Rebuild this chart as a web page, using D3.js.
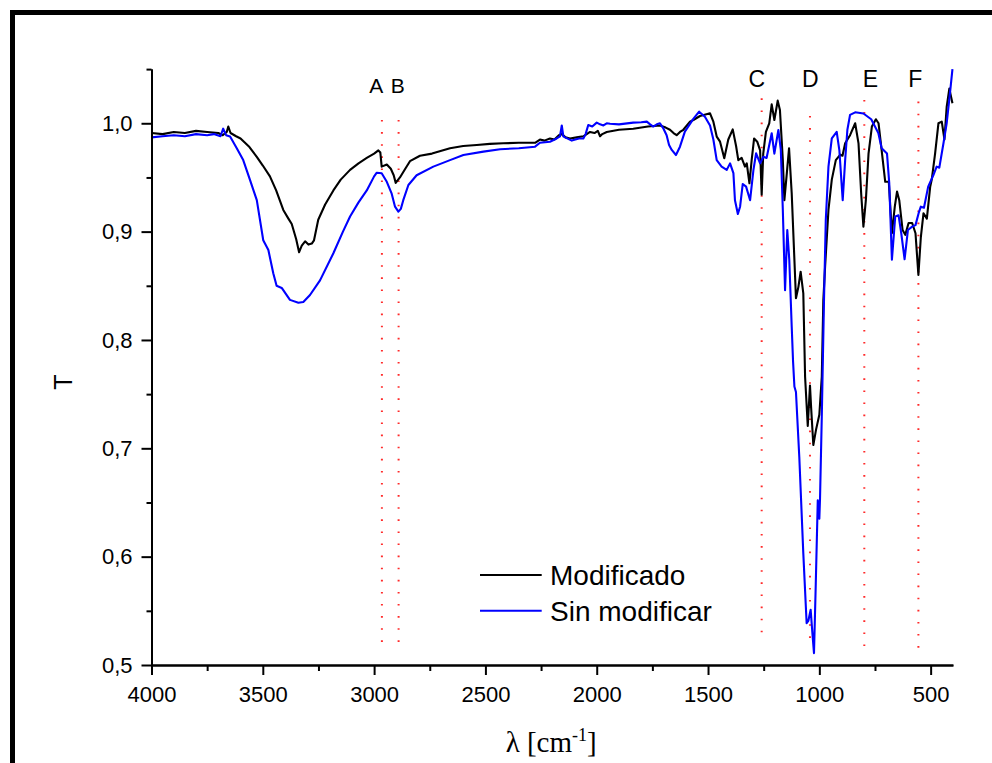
<!DOCTYPE html>
<html>
<head>
<meta charset="utf-8">
<script src="https://cdn.jsdelivr.net/npm/d3@7"></script>
<style>
  html, body { margin: 0; padding: 0; background: #fff; }
  svg { display: block; }
</style>
</head>
<body>
<div id="chart"></div>
<script>
// ---- DATA ----
const seriesNames = ["Modificado", "Sin modificar"];
const seriesColors = ["#000000", "#0000ff"];

// [wavenumber (cm^-1), transmittance]
const modificado = [[4000,0.991],[3950,0.990],[3900,0.992],[3850,0.991],[3800,0.993],[3750,0.992],[3700,0.991],[3680,0.989],[3662,0.992],[3655,0.997],[3645,0.991],[3620,0.988],[3600,0.986],[3560,0.978],[3527,0.969],[3500,0.961],[3468,0.951],[3440,0.938],[3408,0.920],[3385,0.912],[3370,0.907],[3350,0.893],[3337,0.881],[3325,0.887],[3310,0.891],[3295,0.888],[3280,0.889],[3270,0.892],[3251,0.911],[3220,0.925],[3183,0.938],[3150,0.948],[3108,0.957],[3070,0.963],[3033,0.968],[3000,0.972],[2981,0.975],[2972,0.973],[2966,0.960],[2943,0.962],[2925,0.958],[2912,0.952],[2903,0.945],[2884,0.950],[2860,0.958],[2839,0.965],[2794,0.970],[2740,0.972],[2659,0.977],[2600,0.979],[2539,0.980],[2480,0.981],[2420,0.9815],[2350,0.982],[2277,0.982],[2255,0.985],[2235,0.984],[2210,0.986],[2190,0.985],[2170,0.989],[2157,0.990],[2140,0.987],[2120,0.986],[2090,0.987],[2060,0.988],[2045,0.990],[2030,0.992],[2010,0.991],[1995,0.993],[1985,0.988],[1975,0.990],[1955,0.992],[1900,0.994],[1836,0.995],[1770,0.997],[1716,0.998],[1690,0.996],[1671,0.994],[1655,0.991],[1641,0.989],[1626,0.992],[1611,0.994],[1581,1.0015],[1566,1.003],[1536,1.0067],[1491,1.0092],[1476,1.0015],[1461,0.9877],[1446,0.983],[1427,0.9677],[1409,0.985],[1389,0.9944],[1374,0.979],[1364,0.966],[1349,0.968],[1334,0.960],[1326,0.963],[1314,0.9446],[1304,0.966],[1293,0.986],[1279,0.983],[1266,0.975],[1259,0.934],[1252,0.972],[1240,0.992],[1225,1.0],[1214,1.0175],[1202,1.003],[1187,1.0209],[1177,1.0123],[1164,0.966],[1157,0.929],[1146,0.954],[1136,0.977],[1124,0.935],[1105,0.8385],[1094,0.849],[1084,0.863],[1072,0.843],[1064,0.766],[1052,0.7206],[1042,0.758],[1037,0.738],[1027,0.703],[1015,0.717],[1000,0.731],[989,0.766],[982,0.837],[974,0.868],[959,0.92],[944,0.948],[926,0.966],[906,0.971],[896,0.970],[884,0.9815],[862,0.989],[839,1.0],[824,0.9815],[812,0.935],[802,0.9046],[791,0.929],[779,0.972],[764,0.997],[746,1.0037],[734,1.0],[720,0.975],[704,0.946],[688,0.946],[674,0.8985],[661,0.923],[651,0.937],[641,0.929],[626,0.9015],[614,0.897],[599,0.908],[583,0.908],[568,0.8985],[555,0.86],[544,0.895],[532,0.917],[517,0.912],[502,0.9415],[495,0.948],[480,0.972],[465,1.0],[450,1.0015],[438,0.985],[428,1.015],[416,1.032],[402,1.0185]];

const sinModificar = [[4000,0.987],[3950,0.988],[3900,0.989],[3850,0.988],[3800,0.990],[3750,0.989],[3720,0.990],[3690,0.988],[3678,0.995],[3665,0.989],[3647,0.9877],[3617,0.977],[3588,0.966],[3558,0.948],[3527,0.929],[3498,0.892],[3475,0.883],[3453,0.8615],[3438,0.850],[3415,0.848],[3395,0.842],[3378,0.837],[3340,0.8344],[3318,0.835],[3288,0.8415],[3243,0.855],[3183,0.880],[3140,0.900],[3108,0.914],[3070,0.927],[3033,0.938],[3000,0.951],[2988,0.9544],[2966,0.9538],[2943,0.946],[2921,0.935],[2906,0.923],[2891,0.9184],[2880,0.921],[2869,0.929],[2846,0.943],[2809,0.952],[2734,0.960],[2659,0.966],[2599,0.9707],[2509,0.9738],[2434,0.976],[2350,0.977],[2277,0.9784],[2255,0.982],[2210,0.983],[2180,0.986],[2165,0.988],[2157,0.998],[2150,0.988],[2142,0.987],[2112,0.984],[2080,0.986],[2060,0.986],[2050,0.990],[2038,0.9984],[2020,0.997],[2000,1.0006],[1985,0.999],[1970,0.998],[1955,1.0],[1940,0.9996],[1900,0.999],[1836,1.0006],[1800,1.001],[1775,1.0015],[1760,0.999],[1746,0.997],[1730,0.999],[1716,1.0],[1700,0.995],[1686,0.989],[1675,0.980],[1663,0.9754],[1644,0.9707],[1626,0.9784],[1604,0.9923],[1566,1.004],[1540,1.0107],[1514,1.006],[1491,0.998],[1476,0.985],[1461,0.966],[1439,0.960],[1416,0.957],[1401,0.963],[1386,0.954],[1379,0.929],[1366,0.9163],[1356,0.923],[1344,0.944],[1329,0.9415],[1311,0.929],[1296,0.957],[1284,0.9723],[1266,0.963],[1252,0.969],[1237,0.968],[1214,0.9908],[1202,0.972],[1184,0.9938],[1173,0.9754],[1164,0.92],[1154,0.846],[1144,0.9015],[1135,0.874],[1124,0.812],[1118,0.78],[1112,0.757],[1105,0.752],[1090,0.692],[1072,0.603],[1057,0.5385],[1049,0.541],[1039,0.551],[1031,0.529],[1024,0.511],[1016,0.575],[1007,0.652],[1000,0.635],[997,0.653],[989,0.729],[979,0.837],[971,0.911],[959,0.96],[944,0.986],[922,0.992],[910,0.975],[895,0.929],[884,0.966],[874,0.994],[862,1.0077],[839,1.0101],[802,1.009],[767,1.0037],[735,0.991],[720,0.977],[696,0.972],[686,0.945],[674,0.874],[659,0.914],[644,0.915],[632,0.8985],[617,0.8745],[602,0.9015],[583,0.9046],[568,0.906],[554,0.917],[544,0.923],[530,0.922],[511,0.9415],[488,0.952],[473,0.960],[461,0.959],[442,0.982],[428,1.0],[413,1.028],[402,1.05]];

// reference band markers: name, wavenumber of line, top T, bottom T, wavenumber of label centre
const markerNames = ["A","B","C","D","E","F"];
const markerWn    = [2965, 2890, 1259, 1042, 798, 555];
const markerTop   = [1.003, 1.003, 1.023, 1.0067, 1.0215, 1.02];
const markerBot   = [0.512, 0.512, 0.521, 0.5175, 0.5105, 0.509];
const markerLabelWn = [2990, 2894, 1281, 1040, 771, 569];

const xMajorTicks = [4000, 3500, 3000, 2500, 2000, 1500, 1000, 500];
const xMinorTicks = [3750, 3250, 2750, 2250, 1750, 1250, 750];
const yMajorTicks = [0.5, 0.6, 0.7, 0.8, 0.9, 1.0];
const yMinorTicks = [0.55, 0.65, 0.75, 0.85, 0.95, 1.05];
const xDomain = [4000, 400];
const yDomain = [0.5, 1.05];

// ---- DRAW ----
const W = 992, H = 763;
const svg = d3.select("#chart").append("svg").attr("width", W).attr("height", H);
svg.append("rect").attr("width", W).attr("height", H).attr("fill", "#fff");

// outer frame
svg.append("rect").attr("x", 12.5).attr("y", 12.5).attr("width", 1000).attr("height", 1000)
  .attr("fill", "none").attr("stroke", "#000").attr("stroke-width", 5);

const pLeft = 151.5, pRight = 952.9, pTop = 69.1, pBottom = 665;
const x = d3.scaleLinear().domain(xDomain).range([pLeft, pRight]);
const y = d3.scaleLinear().domain(yDomain).range([pBottom, pTop]);

const sansFont = "'Liberation Sans', Arial, Helvetica, sans-serif";
const serifFont = "'Liberation Serif', 'Times New Roman', serif";

// clip
svg.append("defs").append("clipPath").attr("id", "plotclip")
  .append("rect").attr("x", pLeft).attr("y", pTop).attr("width", pRight - pLeft + 2).attr("height", pBottom - pTop);

// marker dotted lines
const gm = svg.append("g");
markerNames.forEach((n, i) => {
  gm.append("line")
    .attr("x1", x(markerWn[i])).attr("x2", x(markerWn[i]))
    .attr("y1", y(markerTop[i])).attr("y2", y(markerBot[i]))
    .attr("stroke", "#ff2a2a").attr("stroke-width", 2)
    .attr("stroke-dasharray", "1.6,10.5");
  gm.append("text")
    .attr("x", x(markerLabelWn[i]))
    .attr("y", i < 2 ? 93.3 : 86.5)
    .attr("text-anchor", "middle")
    .attr("font-family", sansFont)
    .attr("font-size", i < 2 ? 21 : 23)
    .attr("fill", "#000")
    .text(n);
});

// spectra
const line = d3.line().x(d => x(d[0])).y(d => y(d[1]));
const gl = svg.append("g").attr("clip-path", "url(#plotclip)");
[modificado, sinModificar].forEach((s, i) => {
  gl.append("path").datum(s)
    .attr("d", line)
    .attr("fill", "none")
    .attr("stroke", seriesColors[i])
    .attr("stroke-width", 2.1)
    .attr("stroke-linejoin", "round");
});

// axes
const fmtY = v => d3.format(".1f")(v).replace(".", ",");
const xAxis = d3.axisBottom(x).tickValues(xMajorTicks).tickSize(10).tickSizeOuter(0).tickPadding(11).tickFormat(d3.format("d"));
const xAxisMinor = d3.axisBottom(x).tickValues(xMinorTicks).tickSize(6).tickSizeOuter(0).tickFormat("");
const yAxis = d3.axisLeft(y).tickValues(yMajorTicks).tickSize(10).tickSizeOuter(0).tickPadding(9).tickFormat(fmtY);
const yAxisMinor = d3.axisLeft(y).tickValues(yMinorTicks).tickSize(5).tickSizeOuter(0).tickFormat("");

function styleAxis(g) {
  g.selectAll("path").attr("stroke", "#000").attr("stroke-width", 2);
  g.selectAll("line").attr("stroke", "#000").attr("stroke-width", 2);
  g.selectAll("text").attr("font-family", sansFont).attr("font-size", 22).attr("fill", "#000");
}
svg.append("g").attr("transform", `translate(0,${pBottom})`).call(xAxisMinor).call(styleAxis);
svg.append("g").attr("transform", `translate(0,${pBottom})`).call(xAxis).call(styleAxis);
svg.append("g").attr("transform", `translate(${pLeft},0)`).call(yAxisMinor).call(styleAxis);
svg.append("g").attr("transform", `translate(${pLeft},0)`).call(yAxis).call(styleAxis);

// axis titles
svg.append("text")
  .attr("transform", "translate(71.5,382) rotate(-90)")
  .attr("text-anchor", "middle")
  .attr("font-family", sansFont).attr("font-size", 25).attr("fill", "#000")
  .text("T");

const xt = svg.append("text")
  .attr("x", (pLeft + pRight) / 2 - 1).attr("y", 752)
  .attr("text-anchor", "middle")
  .attr("font-family", serifFont).attr("font-size", 29).attr("fill", "#000");
xt.append("tspan").text("λ [cm");
xt.append("tspan").attr("font-size", 18).attr("dy", -11).text("-1");
xt.append("tspan").attr("dy", 11).text("]");

// legend
const lg = svg.append("g");
seriesNames.forEach((n, i) => {
  const ly = 575 + i * 35.7;
  lg.append("line").attr("x1", 480).attr("x2", 541.7).attr("y1", ly).attr("y2", ly)
    .attr("stroke", seriesColors[i]).attr("stroke-width", 2);
  lg.append("text").attr("x", 550).attr("y", ly).attr("dy", "0.35em")
    .attr("font-family", sansFont).attr("font-size", 28).attr("fill", "#000")
    .text(n);
});
</script>
</body>
</html>
